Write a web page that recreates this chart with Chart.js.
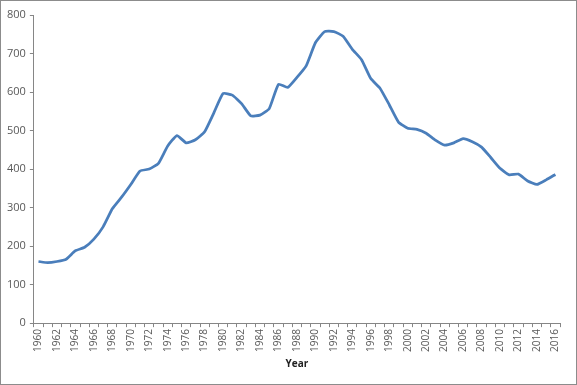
<!DOCTYPE html>
<html>
<head>
<meta charset="utf-8">
<script src="https://cdn.jsdelivr.net/npm/chart.js@4"></script>
<style>
  html, body { margin: 0; padding: 0; background: #fff; }
  #wrap { width: 577px; height: 385px; box-sizing: border-box; border: 1px solid #8c8c8c; }
</style>
</head>
<body>
<div id="wrap"><canvas id="chart" width="575" height="383"></canvas></div>
<script>
const years = [];
for (let y = 1960; y <= 2016; y++) years.push(String(y));

const values = [
    160, 157, 160, 166, 188, 197, 218, 250, 297, 327,
    360, 395, 400, 415, 460, 487, 468, 476, 497, 546,
    596, 592, 570, 538, 540, 557, 620, 612, 638, 668,
    728, 757, 757, 745, 711, 684, 635, 610, 567, 522,
    506, 503, 493, 475, 462, 468, 479, 471, 457, 430,
    402, 385, 387, 369, 360, 372, 386
];

const yTicks = [0, 100, 200, 300, 400, 500, 600, 700, 800];

const axisColor = "#868686";
const labelColor = "#595959";

const ctx = document.getElementById("chart").getContext("2d");
new Chart(ctx, {
    type: "line",
    data: {
        labels: years,
        datasets: [{
            data: values,
            borderColor: "#4a7ebb",
            borderWidth: 2.75,
            pointRadius: 0,
            tension: 0.15,
            fill: false
        }]
    },
    options: {
        responsive: false,
        animation: false,
        layout: { padding: { left: 2, right: 16, top: 14, bottom: 10 } },
        plugins: {
            legend: { display: false },
            tooltip: { enabled: false }
        },
        scales: {
            x: {
                offset: true,
                grid: {
                    offset: true,
                    drawOnChartArea: false,
                    tickLength: 4,
                    color: axisColor
                },
                border: { color: axisColor },
                ticks: {
                    autoSkip: false,
                    minRotation: 90,
                    maxRotation: 90,
                    padding: 2,
                    color: labelColor,
                    font: { family: "Open Sans", size: 10 },
                    callback: (v, i) => (i % 2 === 0 ? years[i] : "")
                },
                title: {
                    display: true,
                    text: "Year",
                    color: "#222",
                    font: { family: "Open Sans", size: 10, weight: "bold" },
                    padding: { top: 4 }
                }
            },
            y: {
                min: 0,
                max: 800,
                afterBuildTicks: axis => { axis.ticks = yTicks.map(v => ({ value: v })); },
                grid: {
                    drawOnChartArea: false,
                    tickLength: 4,
                    color: axisColor
                },
                border: { color: axisColor },
                ticks: {
                    padding: 4,
                    color: labelColor,
                    font: { family: "Open Sans", size: 11 }
                }
            }
        }
    }
});
</script>
</body>
</html>
